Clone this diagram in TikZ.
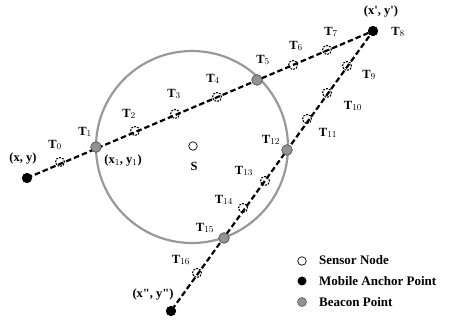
\documentclass[tikz,border=0pt]{standalone}
\usepackage{fontspec}
\setmainfont{Liberation Serif}
\begin{document}
\begin{tikzpicture}[x=1pt,y=-1pt,
  anchorpt/.style={circle,fill=black,inner sep=0pt,minimum size=10pt},
  beacon/.style={circle,fill=gray!85,draw=gray!60!black,line width=0.5pt,inner sep=0pt,minimum size=10.5pt},
  sensorpt/.style={circle,draw=black,dash pattern=on 1.8pt off 1.2pt,line width=1.1pt,inner sep=0pt,minimum size=9pt},
  lbl/.style={font=\fontsize{12.5}{12.5}\selectfont\bfseries,inner sep=0pt},
  path/.style={line width=2.2pt,dash pattern=on 5.5pt off 3pt},
  leg/.style={font=\fontsize{13}{13}\selectfont\bfseries,anchor=west,inner sep=0pt}]
\useasboundingbox (0,0) rectangle (461,320);
% circle
\draw[gray!80,line width=2.2pt] (192,147) circle (96);
% points
\node[anchorpt] (A) at (27,178) {};
\node[sensorpt] (t0) at (60,162) {};
\node[beacon] (t1) at (96,147) {};
\node[sensorpt] (t2) at (135,131) {};
\node[sensorpt] (t3) at (175,114) {};
\node[sensorpt] (t4) at (217,97) {};
\node[beacon] (t5) at (257,80) {};
\node[sensorpt] (t6) at (293,65) {};
\node[sensorpt] (t7) at (327,50) {};
\node[anchorpt] (t8) at (373,31) {};
\node[sensorpt] (t9) at (347,66) {};
\node[sensorpt] (t10) at (327,93) {};
\node[sensorpt] (t11) at (307,119) {};
\node[beacon] (t12) at (287,150) {};
\node[sensorpt] (t13) at (265,181) {};
\node[sensorpt] (t14) at (243,208) {};
\node[beacon] (t15) at (224,238) {};
\node[sensorpt] (t16) at (197,273) {};
\node[anchorpt] (B) at (171,311) {};
% paths
\draw[path] (A.center) -- (t8.center) -- (B.center);
% redraw markers on top
\foreach \n in {A,t8,B} \node[anchorpt] at (\n) {};
\foreach \n in {t1,t5,t12,t15} \node[beacon] at (\n) {};
% sensor S
\node[circle,draw,line width=0.7pt,inner sep=0pt,minimum size=8.5pt] (S) at (193,146) {};
\node[lbl] (Sl) at (194,166) {S};
% labels
\node[lbl] at (23,159) {(x, y)};
\node[lbl] at (55,145) {T$_0$};
\node[lbl] at (85,132) {T$_1$};
\node[lbl] at (123,161) {(x$_1$, y$_1$)};
\node[lbl] at (129,114) {T$_2$};
\node[lbl] at (174,94) {T$_3$};
\node[lbl] at (213,79) {T$_4$};
\node[lbl] at (263,60) {T$_5$};
\node[lbl] at (296,46) {T$_6$};
\node[lbl] at (331,32) {T$_7$};
\node[lbl] at (381,12) {(x\textquotesingle, y\textquotesingle)};
\node[lbl] at (398,32) {T$_8$};
\node[lbl] at (369,75) {T$_9$};
\node[lbl] at (353,106) {T$_{10}$};
\node[lbl] at (328,133) {T$_{11}$};
\node[lbl] at (271,140) {T$_{12}$};
\node[lbl] at (244,171) {T$_{13}$};
\node[lbl] at (224,200) {T$_{14}$};
\node[lbl] at (205,228) {T$_{15}$};
\node[lbl] at (181,260) {T$_{16}$};
\node[lbl] at (153,295) {(x\textquotedbl, y\textquotedbl)};
% legend
\node[circle,draw,line width=0.7pt,inner sep=0pt,minimum size=8.5pt] (l1) at (302,261) {};
\node[anchorpt,minimum size=9pt] (l2) at (302,281) {};
\node[beacon,minimum size=9pt] (l3) at (302,302) {};
\node[leg] at (319,260) {Sensor Node};
\node[leg] at (319,281) {Mobile Anchor Point};
\node[leg] at (319,302) {Beacon Point};
\end{tikzpicture}
\end{document}
